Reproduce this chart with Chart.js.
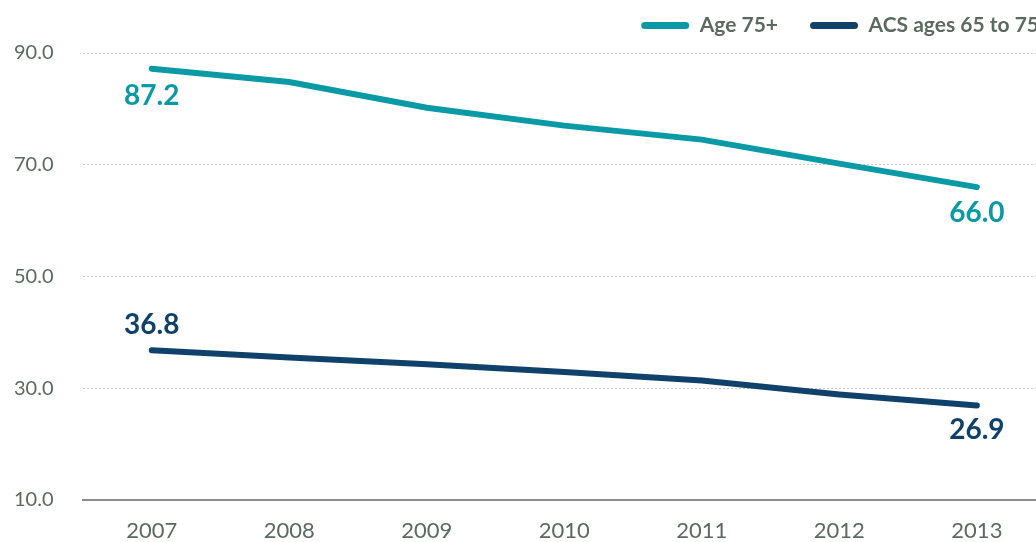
<!DOCTYPE html>
<html>
<head>
<meta charset="utf-8">
<script src="https://cdn.jsdelivr.net/npm/chart.js@4.4.1/dist/chart.umd.min.js"></script>
<style>
  html, body { margin: 0; padding: 0; background: #fff; }
  #contenedor { width: 1036px; height: 542px; position: relative; }
</style>
</head>
<body>
<div id="contenedor"><canvas id="miGrafica"></canvas></div>
<script>
var years = [2007, 2008, 2009, 2010, 2011, 2012, 2013];
var age75 = [87.2, 84.8, 80.2, 77.0, 74.5, 70.2, 66.0];
var acs65 = [36.8, 35.5, 34.3, 32.9, 31.4, 28.9, 26.9];
var yTicks = [10, 30, 50, 70, 90];

var teal = "#0a9aa6";
var navy = "#10416a";
var grisTexto = "#5b6a60";

// etiquetas del primer y ultimo punto
var etiquetas = {
    id: "etiquetas",
    afterDatasetsDraw: function(chart){
        let ctx = chart.ctx;
        let desplaz = [[27, 26], [-25, 24]];
        chart.data.datasets.forEach(function(ds, i){
            let meta = chart.getDatasetMeta(i);
            let ultimo = meta.data.length - 1;
            [0, ultimo].forEach(function(idx, j){
                let p = meta.data[idx];
                ctx.save();
                ctx.font = "bold 28px Lato";
                ctx.fillStyle = ds.borderColor;
                ctx.textAlign = "center";
                ctx.textBaseline = "middle";
                ctx.fillText(ds.data[idx].y.toFixed(1), p.x, p.y + desplaz[i][j]);
                ctx.restore();
            });
        });
    }
};

// leyenda corrida a la derecha (se corta en el borde como el original)
var ajusteLeyenda = {
    id: "ajusteLeyenda",
    beforeInit: function(chart){
        let fitOriginal = chart.legend.fit;
        chart.legend.fit = function(){
            fitOriginal.call(this);
            this.height -= 10;
        };
    },
    afterLayout: function(chart){
        chart.legend.left += 35;
        chart.legend.right += 35;
        chart.legend.top -= 17;
        chart.legend.bottom -= 17;
    }
};

document.addEventListener("DOMContentLoaded", function(){
    grafica();
});

function grafica(){
    let miCanvas = document.getElementById("miGrafica").getContext("2d");

    var chart = new Chart(miCanvas, {
        type: "line",
        data: {
            datasets: [{
                label: "Age 75+",
                data: years.map(function(y, i){ return {x: y, y: age75[i]}; }),
                borderColor: teal,
                backgroundColor: teal,
                borderWidth: 6,
                borderCapStyle: "round",
                pointRadius: 0,
                tension: 0,
                fill: false
            }, {
                label: "ACS ages 65 to 75",
                data: years.map(function(y, i){ return {x: y, y: acs65[i]}; }),
                borderColor: navy,
                backgroundColor: navy,
                borderWidth: 6,
                borderCapStyle: "round",
                pointRadius: 0,
                tension: 0,
                fill: false
            }]
        },
        options: {
            responsive: true,
            maintainAspectRatio: false,
            animation: false,
            layout: { padding: { left: 14, right: 0, top: 0, bottom: 0 } },
            plugins: {
                tooltip: { enabled: false },
                legend: {
                    position: "top",
                    align: "end",
                    labels: {
                        boxWidth: 48,
                        boxHeight: 7,
                        useBorderRadius: true,
                        borderRadius: 3.5,
                        padding: 32,
                        color: grisTexto,
                        font: { family: "Lato", size: 21, weight: "bold" },
                        generateLabels: function(chart){
                            let items = Chart.defaults.plugins.legend.labels.generateLabels(chart);
                            items.forEach(function(it){ it.lineWidth = 0; });
                            return items;
                        }
                    }
                }
            },
            scales: {
                x: {
                    type: "linear",
                    min: 2006.5,
                    max: 2013.43,
                    afterBuildTicks: function(scale){
                        scale.ticks = years.map(function(v){ return {value: v}; });
                    },
                    afterFit: function(scale){ scale.height = 42; },
                    grid: { display: false, drawTicks: false },
                    border: { display: true, color: "#8c8c8c", width: 2 },
                    ticks: {
                        padding: 18,
                        color: grisTexto,
                        font: { family: "Lato", size: 22 },
                        callback: function(v){ return String(v); }
                    }
                },
                y: {
                    min: 10,
                    max: 90,
                    afterBuildTicks: function(scale){
                        scale.ticks = yTicks.map(function(v){ return {value: v}; });
                    },
                    afterFit: function(scale){ scale.width = 69; },
                    grid: {
                        color: "#c8c8c8",
                        lineWidth: 1,
                        drawTicks: false
                    },
                    border: { display: false, dash: [2, 2] },
                    ticks: {
                        crossAlign: "far",
                        padding: 0,
                        color: grisTexto,
                        font: { family: "Lato", size: 20 },
                        callback: function(v){ return v.toFixed(1); }
                    }
                }
            }
        },
        plugins: [etiquetas, ajusteLeyenda]
    });
}
</script>
</body>
</html>
